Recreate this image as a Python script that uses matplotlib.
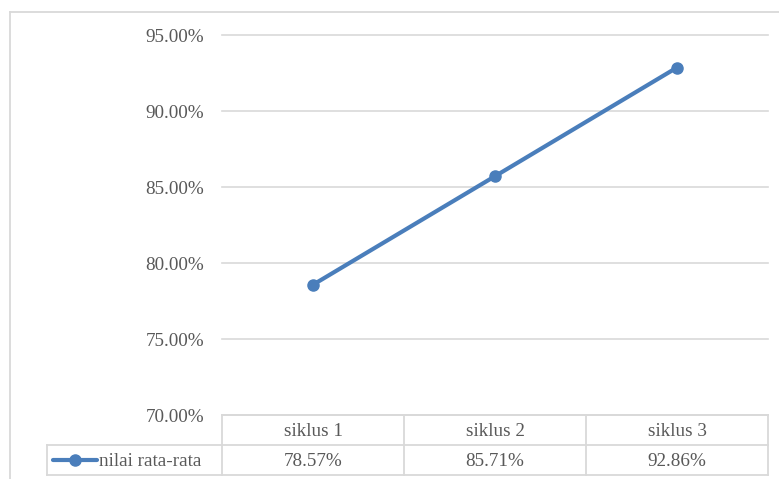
import matplotlib
matplotlib.use("Agg")
import matplotlib.pyplot as plt
from matplotlib.lines import Line2D

categories = ["siklus 1", "siklus 2", "siklus 3"]
values = [0.7857, 0.8571, 0.9286]
series_name = "nilai rata-rata"
y_ticks = [0.70, 0.75, 0.80, 0.85, 0.90, 0.95]

W, H = 779, 479
BLUE = "#4a7ebb"
GRID = "#d9d9d9"
TEXT = "#595959"
FONT = "Liberation Serif"
FS = 13.8


def fx(px):
    return px / W


def fy(py):
    return 1 - py / H


fig = plt.figure(figsize=(W / 100, H / 100), dpi=100)
fig.patch.set_facecolor("white")

# plot area in pixels
left, right, top, bottom = 222, 768, 35, 415
ax = fig.add_axes([fx(left), fy(bottom), fx(right - left), (bottom - top) / H])
x = list(range(len(categories)))
ax.plot(x, values, color=BLUE, lw=3.0, marker="o", ms=8, solid_capstyle="round",
        clip_on=False, zorder=3)
ax.set_xlim(-0.5, len(categories) - 0.5)
ax.set_ylim(y_ticks[0], y_ticks[-1])
ax.set_yticks(y_ticks)
ax.set_yticklabels([f"{t * 100:.2f}%" for t in y_ticks], fontfamily=FONT,
                   fontsize=FS, color=TEXT)
ax.tick_params(axis="y", length=0, pad=13)
ax.set_xticks([])
for s in ax.spines.values():
    s.set_visible(False)
ax.grid(axis="y", color=GRID, lw=1.2, clip_on=False)
ax.set_axisbelow(True)

# outer chart border
fig.add_artist(Line2D([fx(10), fx(10)], [fy(12), fy(479)], color=GRID, lw=1.3))
fig.add_artist(Line2D([fx(10), fx(779)], [fy(12), fy(12)], color=GRID, lw=1.3))

# data table
cols = [222, 404, 586, 768]
r0, r1, r2 = 415, 445, 475
lines = [
    ([222, 768], [r0, r0]),
    ([47, 768], [r1, r1]),
    ([47, 768], [r2, r2]),
    ([47, 47], [r1, r2]),
]
for c in cols:
    lines.append(([c, c], [r0, r2]))
for xs, ys in lines:
    fig.add_artist(Line2D([fx(v) for v in xs], [fy(v) for v in ys], color=GRID, lw=1.3))

for i, (cat, val) in enumerate(zip(categories, values)):
    cx = (cols[i] + cols[i + 1]) / 2
    fig.text(fx(cx), fy((r0 + r1) / 2 + 1), cat, ha="center", va="center",
             fontfamily=FONT, fontsize=FS, color=TEXT)
    fig.text(fx(cx), fy((r1 + r2) / 2 + 1), f"{val * 100:.2f}%", ha="center",
             va="center", fontfamily=FONT, fontsize=FS, color=TEXT)

# legend key in the table
fig.add_artist(Line2D([fx(53), fx(97)], [fy(460), fy(460)], color=BLUE, lw=3.0,
                      solid_capstyle="round"))
fig.add_artist(Line2D([fx(75)], [fy(460)], color=BLUE, marker="o", ms=8))
fig.text(fx(99), fy(461), series_name, ha="left", va="center",
         fontfamily=FONT, fontsize=FS, color=TEXT)

fig.savefig("out.png", dpi=100, facecolor="white")
